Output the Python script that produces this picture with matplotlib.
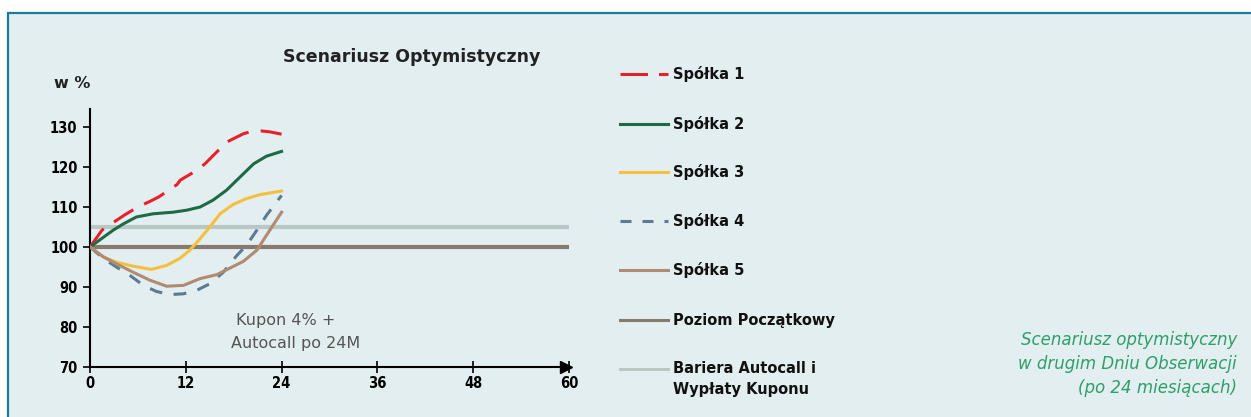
import matplotlib
matplotlib.use('Agg')
import matplotlib.pyplot as plt
from matplotlib.patches import Rectangle
from matplotlib.lines import Line2D
import numpy as np

# months and index levels (in %)
months_1 = [0, 1.5, 2.3, 4.4, 6.0, 7.5, 8.6, 10.9, 11.3, 13.4, 14.4, 16.1, 17.1, 19.2, 20.2, 21.5, 22.5, 24]
spolka_1 = [100, 104.2, 105.3, 108.1, 110.0, 111.4, 112.5, 115.6, 116.7, 119.2, 120.8, 124.2, 126.2, 128.3, 128.9, 129.0, 128.8, 128.2]

months_2 = [0, 2.9, 4.2, 5.8, 7.9, 10.4, 12.1, 13.8, 15.4, 17.1, 18.8, 20.5, 22.1, 24]
spolka_2 = [100, 104.2, 105.8, 107.5, 108.3, 108.7, 109.2, 110.0, 111.7, 114.2, 117.5, 120.8, 122.7, 123.9]

months_3 = [0, 1.7, 3.3, 5.4, 7.7, 9.6, 11.3, 12.5, 13.8, 15.0, 16.3, 17.9, 19.6, 21.3, 24]
spolka_3 = [100, 97.5, 96.2, 95.2, 94.4, 95.4, 97.2, 99.2, 102.1, 105.0, 108.3, 110.6, 112.1, 113.1, 114.0]

months_4 = [0, 1.7, 3.3, 5.0, 6.7, 8.3, 10.0, 11.7, 13.4, 15.0, 16.7, 18.4, 19.6, 20.9, 22.1, 24]
spolka_4 = [100, 97.1, 95.0, 92.9, 90.4, 88.9, 88.1, 88.3, 89.2, 90.8, 93.7, 97.9, 100.4, 104.2, 107.9, 112.9]

months_5 = [0, 1.7, 3.3, 5.4, 7.5, 9.6, 11.7, 13.8, 15.9, 17.5, 19.2, 20.9, 22.1, 24]
spolka_5 = [100, 97.5, 95.8, 93.7, 91.7, 90.2, 90.4, 92.1, 93.1, 94.7, 96.4, 99.2, 102.9, 108.7]

poziom_poczatkowy = 100
bariera_autocall = 105

x_ticks = [0, 12, 24, 36, 48, 60]
y_ticks = [70, 80, 90, 100, 110, 120, 130]

labels = ['Spółka 1', 'Spółka 2', 'Spółka 3', 'Spółka 4', 'Spółka 5',
          'Poziom Początkowy', 'Bariera Autocall i\nWypłaty Kuponu']

bg = '#e3eef0'
red_dash = (7.5, 4)
blue_dash = (4.2, 3.8)
plt.rcParams['font.family'] = ['DejaVu Sans']

fig = plt.figure(figsize=(12.51, 4.17), dpi=100)
fig.patch.set_facecolor('white')
frame = Rectangle((8 / 1251, -0.05), 1.1, 1 - 13 / 417 + 0.05,
                  transform=fig.transFigure, facecolor=bg,
                  edgecolor='#1b7b9b', linewidth=1.6, zorder=-5)
fig.add_artist(frame)

ax = fig.add_axes([90 / 1251, 1 - 367 / 417, 479 / 1251, 258 / 417])
ax.set_zorder(2)
ax.set_facecolor('none')
ax.set_xlim(0, 60)
ax.set_ylim(70, 134.5)

ax.axhline(bariera_autocall, color='#b9c8c5', lw=3, zorder=1)
ax.axhline(poziom_poczatkowy, color='#877b6f', lw=3, zorder=1)
ax.plot(months_1, spolka_1, color='#e8202a', lw=2.2, dashes=red_dash, zorder=3)
ax.plot(months_2, spolka_2, color='#1d6a44', lw=2.2, zorder=3)
ax.plot(months_3, spolka_3, color='#f4c03e', lw=2.2, zorder=3)
ax.plot(months_4, spolka_4, color='#5c7a91', lw=2.2, dashes=blue_dash, zorder=3)
ax.plot(months_5, spolka_5, color='#b08a72', lw=2.2, zorder=3)

for s in ['top', 'right']:
    ax.spines[s].set_visible(False)
for s in ['left', 'bottom']:
    ax.spines[s].set_linewidth(1.5)
    ax.spines[s].set_color('black')
ax.plot([59.6], [70], marker='>', color='black', markersize=8, clip_on=False, zorder=5)

ax.set_xticks(x_ticks)
ax.set_yticks(y_ticks)
ax.tick_params(axis='y', direction='out', length=5, width=1.2, labelsize=10.5, pad=4)
ax.tick_params(axis='x', direction='inout', length=9, width=1.2, labelsize=10.5, pad=2)
for lab in ax.get_xticklabels() + ax.get_yticklabels():
    lab.set_fontweight('semibold')
    lab.set_fontstretch('condensed')

ax.text(18.3, 81.7, 'Kupon 4% +', fontsize=11.5, color='#555555', ha='left', va='center')
ax.text(17.7, 75.9, 'Autocall po 24M', fontsize=11.5, color='#555555', ha='left', va='center')

fig.text(412 / 1251, 1 - 57 / 417, 'Scenariusz Optymistyczny', fontsize=12.5,
         fontweight='semibold', ha='center', va='center', color='#222222')
fig.text(54 / 1251, 1 - 84 / 417, 'w %', fontsize=11.5, fontweight='semibold',
         ha='left', va='center', color='#222222')

# legend drawn by hand
leg_styles = [
    dict(color='#e8202a', dashes=(9, 3.6)),
    dict(color='#1d6a44'),
    dict(color='#f4c03e'),
    dict(color='#5c7a91', dashes=(3.6, 3.6)),
    dict(color='#b08a72'),
    dict(color='#877b6f'),
    dict(color='#b9c8c5'),
]
leg_y = [74, 124, 172, 221, 270, 320, 369]
for lab, st, yy in zip(labels, leg_styles, leg_y):
    yf = 1 - yy / 417
    fig.add_artist(Line2D([620 / 1251, 668 / 1251], [yf, yf], lw=2.2,
                          transform=fig.transFigure, **st))
    fig.text(673 / 1251, yf, lab, fontsize=10.5, fontweight='semibold',
             ha='left', va='top' if '\n' in lab else 'center',
             color='#111111', linespacing=1.5)
# nudge the two-line label so its first line sits on the handle
fig.texts[-1].set_position((673 / 1251, 1 - 361 / 417))

fig.text(1237 / 1251, 1 - 364 / 417,
         'Scenariusz optymistyczny\nw drugim Dniu Obserwacji\n(po 24 miesiącach)',
         fontsize=12, style='italic', color='#2f9e6b', ha='right', va='center',
         linespacing=1.45, fontweight='light')

fig.savefig('out.png', dpi=100, facecolor=fig.get_facecolor())
